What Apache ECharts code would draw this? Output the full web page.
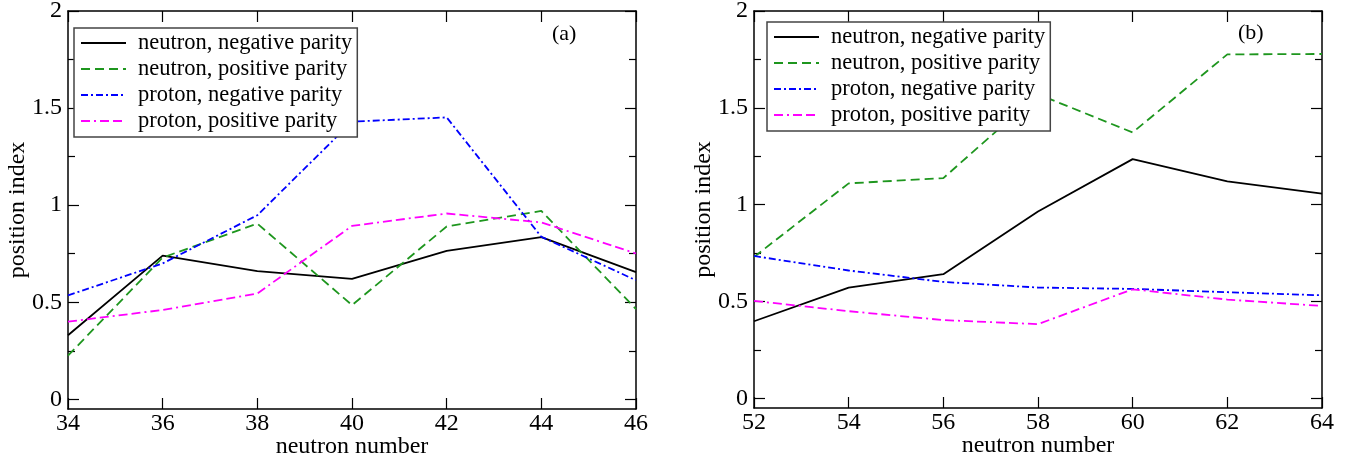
<!DOCTYPE html>
<html>
<head>
<meta charset="utf-8">
<script src="https://cdn.jsdelivr.net/npm/echarts@6/dist/echarts.min.js"></script>
<style>
  html, body { margin: 0; padding: 0; background: #fff; }
  #chart { width: 1355px; height: 459px; }
</style>
</head>
<body>
<div id="chart"></div>
<script>
// Neutron numbers for each panel
const neutronA = [34, 36, 38, 40, 42, 44, 46];
const neutronB = [52, 54, 56, 58, 60, 62, 64];

// Panel (a): position index
const aNeutronNeg = [0.33, 0.74, 0.66, 0.62, 0.765, 0.835, 0.655];
const aNeutronPos = [0.225, 0.73, 0.905, 0.485, 0.89, 0.97, 0.465];
const aProtonNeg  = [0.535, 0.70, 0.948, 1.43, 1.452, 0.837, 0.613];
const aProtonPos  = [0.40, 0.46, 0.545, 0.893, 0.957, 0.911, 0.751];

// Panel (b): position index
const bNeutronNeg = [0.398, 0.572, 0.641, 0.965, 1.235, 1.12, 1.057];
const bNeutronPos = [0.73, 1.11, 1.137, 1.57, 1.373, 1.776, 1.778];
const bProtonNeg  = [0.735, 0.66, 0.601, 0.572, 0.565, 0.548, 0.532];
const bProtonPos  = [0.503, 0.45, 0.404, 0.383, 0.563, 0.51, 0.477];

const seriesNames = [
  'neutron, negative parity',
  'neutron, positive parity',
  'proton, negative parity',
  'proton, positive parity'
];
const yMajor = [0, 0.5, 1, 1.5, 2];
const yMinor = [0.25, 0.75, 1.25, 1.75];

const FONT = '"Liberation Serif", "DejaVu Serif", serif';
const lineStyles = [
  { color: '#000000', type: 'solid' },
  { color: '#1e961e', type: [9, 5] },
  { color: '#0000ff', type: [7, 3, 2, 3] },
  { color: '#ff00ff', type: [9, 4, 2, 4, 9, 4] }
];

const grids = [
  { left: 68, top: 11, width: 568, height: 398, outerBoundsMode: 'none', containLabel: false },
  { left: 754, top: 11, width: 568, height: 397, outerBoundsMode: 'none', containLabel: false }
];
const xRanges = [[34, 46], [52, 64]];

const frameLine = { show: true, onZero: false, lineStyle: { color: '#000', width: 1.5 } };
const xAxes = [];
const yAxes = [];
grids.forEach((g, gi) => {
  const [xmin, xmax] = xRanges[gi];
  xAxes.push({
    type: 'value', gridIndex: gi, position: 'bottom', min: xmin, max: xmax, interval: 2,
    axisLine: frameLine,
    axisTick: { show: true, inside: true, length: 11, lineStyle: { color: '#000', width: 1.2 } },
    axisLabel: { show: true, color: '#000', fontFamily: FONT, fontSize: 24, margin: 3 },
    splitLine: { show: false },
    name: 'neutron number', nameLocation: 'middle', nameGap: 26, nameMoveOverlap: false,
    nameTextStyle: { color: '#000', fontFamily: FONT, fontSize: 24 }
  });
  xAxes.push({
    type: 'value', gridIndex: gi, position: 'top', min: xmin, max: xmax, interval: 2,
    axisLine: frameLine,
    axisTick: { show: true, inside: true, length: 11, lineStyle: { color: '#000', width: 1.2 } },
    axisLabel: { show: false },
    splitLine: { show: false }
  });
  const yBase = {
    type: 'value', gridIndex: gi, min: -0.05, max: 2, splitLine: { show: false }
  };
  // left axis with labels and major ticks
  yAxes.push(Object.assign({}, yBase, {
    position: 'left',
    axisLine: frameLine,
    axisTick: { show: true, inside: true, length: 11, customValues: yMajor, lineStyle: { color: '#000', width: 1.2 } },
    axisLabel: { show: true, customValues: yMajor, color: '#000', fontFamily: FONT, fontSize: 24, margin: 6 },
    name: 'position index', nameLocation: 'middle', nameGap: 38, nameRotate: 90, nameMoveOverlap: false,
    nameTextStyle: { color: '#000', fontFamily: FONT, fontSize: 24 }
  }));
  // right axis with major ticks
  yAxes.push(Object.assign({}, yBase, {
    position: 'right',
    axisLine: frameLine,
    axisTick: { show: true, inside: true, length: 11, customValues: yMajor, lineStyle: { color: '#000', width: 1.2 } },
    axisLabel: { show: false }
  }));
  // minor ticks, left and right
  ['left', 'right'].forEach(pos => {
    yAxes.push(Object.assign({}, yBase, {
      position: pos,
      axisLine: { show: false, onZero: false },
      axisTick: { show: true, inside: true, length: 7, customValues: yMinor, lineStyle: { color: '#000', width: 1.2 } },
      axisLabel: { show: false }
    }));
  });
});

function pairs(xs, ys) { return xs.map((x, i) => [x, ys[i]]); }

const panelData = [
  [neutronA, [aNeutronNeg, aNeutronPos, aProtonNeg, aProtonPos]],
  [neutronB, [bNeutronNeg, bNeutronPos, bProtonNeg, bProtonPos]]
];
const series = [];
panelData.forEach(([xs, sets], gi) => {
  sets.forEach((ys, si) => {
    series.push({
      type: 'line', name: seriesNames[si],
      xAxisIndex: gi * 2, yAxisIndex: gi * 4,
      data: pairs(xs, ys),
      symbol: 'none', silent: true, animation: false,
      color: lineStyles[si].color,
      lineStyle: { color: lineStyles[si].color, type: lineStyles[si].type, width: 1.8 }
    });
  });
});

const legendBase = {
  orient: 'vertical', data: seriesNames, selectedMode: false,
  itemWidth: 45, itemHeight: 14, itemGap: 0,
  itemStyle: { opacity: 0 },
  backgroundColor: '#fff', borderColor: '#444', borderWidth: 1.5,
  padding: [2, 5, 3, 6],
  textStyle: { color: '#000', fontFamily: FONT, fontSize: 22.5, lineHeight: 26, padding: [0, 0, 0, 7] }
};

const option = {
  animation: false,
  backgroundColor: '#fff',
  grid: grids,
  xAxis: xAxes,
  yAxis: yAxes,
  legend: [
    Object.assign({}, legendBase, { left: 74, top: 28 }),
    Object.assign({}, legendBase, { left: 767, top: 22 })
  ],
  graphic: [
    { type: 'text', left: 552, top: 23, style: { text: '(a)', font: '22px ' + FONT, fill: '#000' } },
    { type: 'text', left: 1238, top: 22, style: { text: '(b)', font: '22px ' + FONT, fill: '#000' } }
  ],
  series: series
};

const chart = echarts.init(document.getElementById('chart'), null, { renderer: 'canvas' });
chart.setOption(option);
</script>
</body>
</html>
